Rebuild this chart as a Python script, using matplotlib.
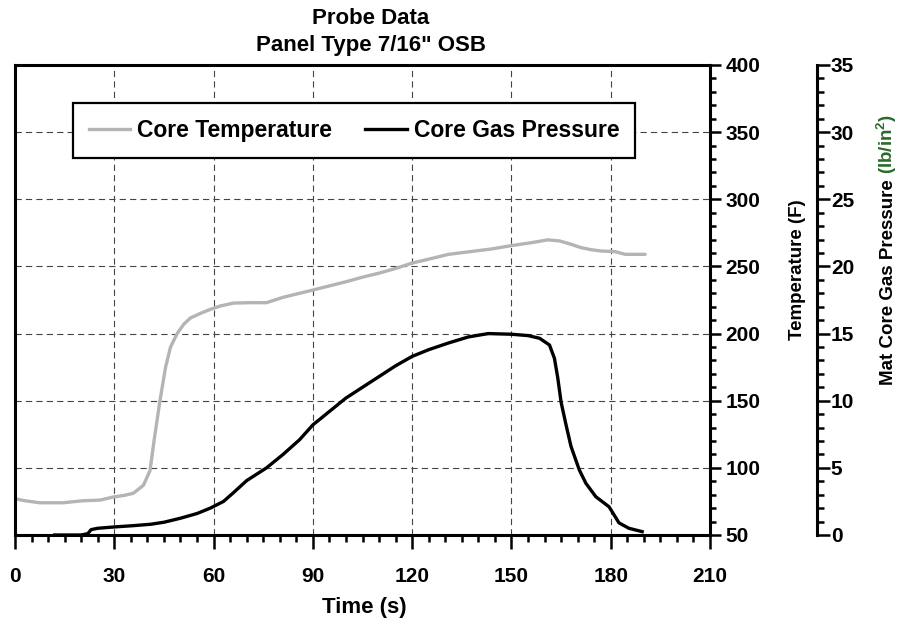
import matplotlib
matplotlib.use('Agg')
import matplotlib.pyplot as plt
from matplotlib.ticker import MultipleLocator
from matplotlib.lines import Line2D

# dane
czas_temp = [0, 3, 7.5, 14.5, 20.5, 25.7, 29.7, 33, 35.7, 38.8, 40.8, 42, 43.8, 45.5, 47, 49, 51,
             53, 56, 59, 62, 66, 71, 76, 81, 86, 90, 95, 100, 105, 110, 115, 120, 126, 131,
             137.5, 144, 150, 155, 158, 161, 164.5, 168, 171, 174, 177, 181.4, 184.4, 187, 190.4]
temperatura = [77, 75.5, 74, 74, 75.5, 76, 78.3, 79.5, 81, 87, 98, 120, 150, 175, 190, 200, 207,
               211.6, 215, 218, 220.5, 222.7, 223, 223, 227, 230, 232.4, 235.5, 238.6, 242, 245,
               248.5, 252.5, 256, 259, 261, 263, 265.5, 267.3, 268.5, 269.8, 269, 266.5, 264,
               262.5, 261.5, 261, 259, 259, 259]

czas_cisn = [12, 20, 22, 23, 25, 30, 36, 41, 45, 50, 55, 59, 63, 66, 70, 76, 81, 86, 90, 95, 100,
             105, 110, 115, 120, 125, 131, 137, 143, 150, 155, 158.5, 161.5, 163, 164, 165, 166.5,
             168, 170.5, 172.5, 175.5, 179.5, 181, 182.5, 185.5, 189.5]
cisnienie = [0.0, 0.0, 0.1, 0.4, 0.5, 0.6, 0.7, 0.8, 0.95, 1.25, 1.6, 2.0, 2.5, 3.15, 4.05, 5.0, 6.0,
             7.1, 8.2, 9.2, 10.2, 11.0, 11.8, 12.6, 13.3, 13.8, 14.3, 14.75, 15.0, 14.95, 14.85,
             14.65, 14.15, 13.15, 11.7, 9.9, 8.2, 6.6, 4.85, 3.85, 2.85, 2.1, 1.5, 0.9, 0.5, 0.25]

etykiety = ['Core Temperature', 'Core Gas Pressure']

plt.rcParams['font.family'] = ['Liberation Sans', 'DejaVu Sans']
plt.rcParams['font.weight'] = 'bold'
plt.rcParams['lines.scale_dashes'] = False
plt.rcParams['mathtext.fontset'] = 'custom'
plt.rcParams['mathtext.bf'] = 'Liberation Sans:bold'
plt.rcParams['mathtext.rm'] = 'Liberation Sans:bold'

W, H = 901, 625
fig = plt.figure(figsize=(W / 100, H / 100), dpi=100)
ax = fig.add_axes([15 / W, 1 - 535 / H, 695 / W, 470 / H])
ax2 = ax.twinx()

# krzywe
ax.plot(czas_temp, temperatura, color='#b4b4b4', lw=2.4, solid_capstyle='round')
ax2.plot(czas_cisn, cisnienie, color='black', lw=2.4, clip_on=False)

# os x
ax.set_xlim(0, 210)
ax.set_xticks(range(0, 211, 30))
ax.xaxis.set_minor_locator(MultipleLocator(5))
ax.tick_params(axis='x', which='major', direction='out', length=10, width=1.8,
               labelsize=15, pad=13)
ax.tick_params(axis='x', which='minor', direction='out', length=5, width=1.8)

# os temperatury (po prawej)
ax.set_ylim(50, 400)
ax.set_yticks(range(50, 401, 50))
ax.yaxis.set_minor_locator(MultipleLocator(10))
ax.yaxis.tick_right()
ax.tick_params(axis='y', which='major', direction='out', length=8, width=1.8,
               labelsize=15, pad=3)
ax.tick_params(axis='y', which='minor', direction='out', length=4, width=1.8)

# os cisnienia
ax2.set_ylim(0, 35)
ax2.set_yticks(range(0, 36, 5))
ax2.yaxis.set_minor_locator(MultipleLocator(1))
ax2.spines['right'].set_position(('axes', (817 - 15) / 695))
for s in ['left', 'top', 'bottom']:
    ax2.spines[s].set_visible(False)
ax2.tick_params(axis='y', which='major', direction='out', length=9, width=1.8,
                labelsize=15, pad=1)
ax2.tick_params(axis='y', which='minor', direction='out', length=5, width=1.8)

for s in ax.spines.values():
    s.set_linewidth(2.2)
ax2.spines['right'].set_linewidth(2.2)

ax.grid(True, which='major', color='#444444', lw=0.8, dashes=(4.5, 3))

# legenda
uchwyty = [Line2D([], [], color='#b4b4b4', lw=2.4), Line2D([], [], color='black', lw=2.4)]
leg = ax2.legend(uchwyty, etykiety, ncol=2, loc='upper left', bbox_to_anchor=(0.0835, 0.919),
                 borderaxespad=0, fancybox=False, edgecolor='black', framealpha=1,
                 fontsize=16.5, borderpad=0.7, handlelength=1.8, handletextpad=0.3,
                 columnspacing=1.45)
leg.get_frame().set_linewidth(1.6)

# tytul i opisy osi
fig.text(371 / W, 1 - 18 / H, 'Probe Data', ha='center', va='center', fontsize=16)
fig.text(371 / W, 1 - 45 / H, 'Panel Type 7/16" OSB', ha='center', va='center', fontsize=16)
fig.text(364 / W, 1 - 607 / H, 'Time (s)', ha='center', va='center', fontsize=16)
fig.text(797 / W, 1 - 270 / H, 'Temperature (F)', ha='center', va='center',
         rotation=90, fontsize=13.5)

r = fig.canvas.get_renderer()
t1 = fig.text(893 / W, 1 - 385 / H, 'Mat Core Gas Pressure', ha='left', va='baseline',
              rotation=90, rotation_mode='anchor', fontsize=13.5)
bb = t1.get_window_extent(r)
fig.text(893 / W, (bb.y1 + 5) / H, r'(lb/in$^{\mathbf{2}}$)', ha='left', va='baseline',
         rotation=90, rotation_mode='anchor', fontsize=13.5, color='#2a6a2a')

fig.savefig('out.png', dpi=100)
